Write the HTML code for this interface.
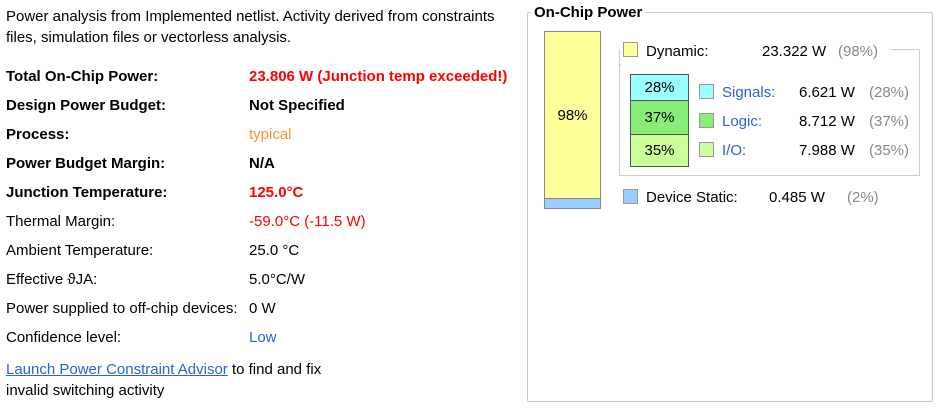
<!DOCTYPE html>
<html><head><meta charset="utf-8"><style>
body{margin:0;width:937px;height:412px;background:#fff;position:relative;overflow:hidden;font-family:"Liberation Sans",sans-serif;font-size:15px;color:#000}
.a{position:absolute;white-space:nowrap;line-height:17px;margin-top:2px}
.b{font-weight:bold}
.red{color:#f00}
.g{color:#888}
.lnk{color:#2a62d8}
</style></head><body>
<div class="a" style="left:6px;top:6px">Power analysis from Implemented netlist. Activity derived from constraints</div>
<div class="a" style="left:6px;top:27px">files, simulation files or vectorless analysis.</div>

<div class="a b" style="left:6px;top:66px">Total On-Chip Power:</div>
<div class="a b red" style="left:249px;top:66px">23.806 W (Junction temp exceeded!)</div>
<div class="a b" style="left:6px;top:95px">Design Power Budget:</div>
<div class="a b" style="left:249px;top:95px">Not Specified</div>
<div class="a b" style="left:6px;top:124px">Process:</div>
<div class="a" style="left:249px;top:124px;color:#f7923a">typical</div>
<div class="a b" style="left:6px;top:153px">Power Budget Margin:</div>
<div class="a b" style="left:249px;top:153px">N/A</div>
<div class="a b" style="left:6px;top:182px">Junction Temperature:</div>
<div class="a b red" style="left:249px;top:182px">125.0°C</div>
<div class="a" style="left:6px;top:211px">Thermal Margin:</div>
<div class="a red" style="left:249px;top:211px">-59.0°C (-11.5 W)</div>
<div class="a" style="left:6px;top:240px">Ambient Temperature:</div>
<div class="a" style="left:249px;top:240px">25.0 °C</div>
<div class="a" style="left:6px;top:269px">Effective ϑJA:</div>
<div class="a" style="left:249px;top:269px">5.0°C/W</div>
<div class="a" style="left:6px;top:298px">Power supplied to off-chip devices:</div>
<div class="a" style="left:249px;top:298px">0 W</div>
<div class="a" style="left:6px;top:327px">Confidence level:</div>
<div class="a lnk" style="left:249px;top:327px">Low</div>
<div class="a" style="left:6px;top:359px"><span class="lnk" style="text-decoration:underline">Launch Power Constraint Advisor</span> to find and fix</div>
<div class="a" style="left:6px;top:380px">invalid switching activity</div>

<div style="position:absolute;left:527px;top:12px;width:404px;height:388px;border:1px solid #c8c8c8;border-radius:2px"></div>
<div class="a b" style="left:531px;top:2px;background:#fff;padding:0 3px;font-size:15px">On-Chip Power</div>
<div id="chart"></div>

<script>
const totalCats=["Dynamic","Device Static"];
const totalVals=[23.322,0.485];
const totalPcts=["98%","2%"];
const dynCats=["Signals","Logic","I/O"];
const dynVals=[6.621,8.712,7.988];
const dynPcts=["28%","37%","35%"];
const c=document.getElementById('chart');
function box(l,t,w,h,bg,bd){const d=document.createElement('div');d.style.cssText=`position:absolute;left:${l}px;top:${t}px;width:${w}px;height:${h}px;background:${bg};${bd?'border:1px solid '+bd+';':''}box-sizing:border-box`;c.appendChild(d);return d;}
function txt(l,t,s,cls,extra){const d=document.createElement('div');d.className='a '+(cls||'');d.style.left=l+'px';d.style.top=t+'px';if(extra)d.style.cssText+=extra;d.textContent=s;c.appendChild(d);return d;}
// main bar
const bTop=31,bH=177,bX=544,bW=57;
const tsum=totalVals.reduce((a,b)=>a+b,0);
const tCol=["#ffff99","#99ccff"];
const hs=totalVals.map(v=>Math.max(10,Math.round(v/tsum*bH)));
hs[0]=bH-hs.slice(1).reduce((a,b)=>a+b,0);
let y=bTop;
totalVals.forEach((v,i)=>{const h=hs[i];const d=box(bX,y,bW,h+1,tCol[i],'#888');


if(h>20){d.style.display='flex';d.style.alignItems='center';d.style.justifyContent='center';d.textContent=totalPcts[i];}
y+=h;});
// dynamic legend
let s=box(623,42,15,15,tCol[0],'#999');


let t=txt(646,41,totalCats[0]+':');


t=txt(762,41,totalVals[0].toFixed(3)+' W');


t=txt(838,41,'('+totalPcts[0]+')','g');


// bracket
const br=box(619,49,301,127,'transparent');
br.style.border='1px solid #ccc';br.style.borderTop='none';


box(619,64,2,1,'#ccc');box(890,49,30,1,'#ccc');
box(620,49,1,15,'#fff');
// dynamic bar
const dTop=74,dH=92,dX=630,dW=59;
const dsum=dynVals.reduce((a,b)=>a+b,0);
const dCol=["#99ffff","#88ee77","#ccff99"];
let yy=dTop;
dynVals.forEach((v,i)=>{const h=Math.round(v/dsum*dH);const d=box(dX,yy,dW,h+1,dCol[i],'#555');


d.style.display='flex';d.style.alignItems='center';d.style.justifyContent='center';d.textContent=dynPcts[i];
const ly=82+i*29;
const sw=box(699,ly+2,15,15,dCol[i],'#999');


const l=txt(722,ly,dynCats[i]+':','lnk');


const vv=txt(799,ly,v.toFixed(3)+' W');


const pp=txt(869,ly,'('+dynPcts[i]+')','g');


yy+=h;});
// static legend
s=box(623,189,15,15,tCol[1],'#999');


t=txt(646,187,totalCats[1]+':');


t=txt(769,187,totalVals[1].toFixed(3)+' W');


t=txt(847,187,'('+totalPcts[1]+')','g');


</script>
</body></html>
